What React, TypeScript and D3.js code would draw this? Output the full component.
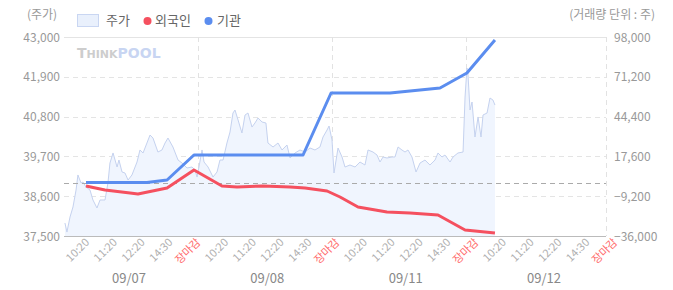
import React from "react";
import * as d3 from "d3";

// ---- data (x = trading-day position: day index + fraction of day) ----
const dayLabels = ["09/07", "09/08", "09/11", "09/12"];
const tickLabels = ["10:20", "11:20", "12:20", "14:30", "장마감"];
const leftTicks = [37500, 38600, 39700, 40800, 41900, 43000];
const rightTicks = [-36000, -9200, 17600, 44400, 71200, 98000];

const price: [number, number][] = [
  [0.007, 37859], [0.022, 37610], [0.045, 38025], [0.067, 38301], [0.09, 38771], [0.104, 39186],
  [0.127, 38965], [0.142, 38992], [0.164, 38854], [0.194, 38771], [0.216, 38495], [0.246, 38274],
  [0.269, 38495], [0.306, 38495], [0.328, 38965], [0.343, 39517], [0.366, 39794], [0.396, 39407],
  [0.41, 39600], [0.433, 39269], [0.455, 39241], [0.478, 39047], [0.507, 39186], [0.545, 39545],
  [0.567, 39877], [0.59, 39794], [0.619, 40070], [0.642, 40291], [0.664, 40208], [0.701, 39821],
  [0.731, 39877], [0.754, 40070], [0.776, 40208], [0.813, 39960], [0.851, 39600], [0.881, 39517],
  [0.918, 39379], [0.955, 39407], [0.978, 39324], [0.993, 39130],
  [1.007, 39407], [1.03, 39877], [1.045, 39545], [1.075, 39407], [1.112, 39130], [1.142, 39269],
  [1.164, 39600], [1.187, 39600], [1.216, 40070], [1.239, 40374], [1.261, 40899], [1.276, 40982],
  [1.299, 40706], [1.328, 40347], [1.351, 40844], [1.373, 40899], [1.403, 40512], [1.425, 40623],
  [1.448, 40761], [1.478, 40651], [1.507, 40623], [1.522, 40070], [1.56, 39960], [1.597, 40070],
  [1.627, 39877], [1.664, 40015], [1.687, 39656], [1.724, 39794], [1.761, 39877], [1.799, 39821],
  [1.836, 39932], [1.873, 39877], [1.91, 39960], [1.933, 40236], [1.963, 40429], [1.978, 40540],
  [2.0, 40153], [2.015, 39241], [2.045, 39932], [2.075, 39683], [2.097, 39407], [2.134, 39462],
  [2.172, 39407], [2.209, 39545], [2.246, 39462], [2.269, 39877], [2.306, 39821], [2.336, 39738],
  [2.358, 39545], [2.381, 39683], [2.41, 39656], [2.448, 39683], [2.47, 39683], [2.493, 39960],
  [2.522, 39877], [2.545, 39821], [2.567, 39877], [2.597, 39683], [2.627, 39269], [2.657, 39517],
  [2.694, 39600], [2.731, 39462], [2.769, 39600], [2.791, 39794], [2.821, 39683], [2.843, 39738],
  [2.881, 39545], [2.903, 39683], [2.94, 39794], [2.978, 39821],
  [2.993, 41342], [3.007, 42143], [3.015, 41950], [3.03, 40982], [3.045, 41203], [3.052, 40899],
  [3.067, 40236], [3.09, 40789], [3.112, 40236], [3.127, 40844], [3.157, 40899], [3.179, 41314],
  [3.201, 41259], [3.216, 41120],
];

const foreign: [number, number][] = [
  [0.164, -2340], [0.306, -5030], [0.493, -7050], [0.552, -7720], [0.769, -3680], [0.97, 8440],
  [1.179, -2340], [1.291, -3010], [1.485, -2340], [1.687, -3010], [1.799, -3680], [1.963, -5700],
  [2.06, -9740], [2.194, -16480], [2.41, -19850], [2.582, -20520], [2.791, -21870], [2.993, -31970],
  [3.216, -33990],
];

const institution: [number, number][] = [
  [0.164, 0], [0.619, 0], [0.769, 1700], [0.97, 18540], [1.784, 18540], [1.993, 60290],
  [2.433, 60290], [2.806, 63660], [3.007, 73760], [3.216, 95980],
];

const W = 673, H = 290;
const plotL = 64, plotR = 606, plotT = 37, plotB = 236;
const FONT = "'Noto Sans CJK KR', 'Noto Sans', sans-serif";

export default function App() {
  const x = d3.scaleLinear().domain([0, 4]).range([plotL, 600]);
  const yL = d3.scaleLinear().domain([37500, 43000]).range([plotB, plotT]);
  const yR = d3.scaleLinear().domain([-36000, 98000]).range([plotB, plotT]);
  const tickX = d3.scaleLinear().domain([0, 19]).range([90, 618]);
  const dayX = d3.scaleLinear().domain([0, 3]).range([129, 544]);
  const fmt = d3.format(",");

  const area = d3.area<[number, number]>()
    .x((d) => x(d[0])).y0(plotB).y1((d) => yL(d[1]));
  const pLine = d3.line<[number, number]>().x((d) => x(d[0])).y((d) => yL(d[1]));
  const rLine = d3.line<[number, number]>().x((d) => x(d[0])).y((d) => yR(d[1]));

  const allTicks: { label: string; i: number }[] = [];
  dayLabels.forEach((_, d) => tickLabels.forEach((t, k) => allTicks.push({ label: t, i: d * 5 + k })));

  return (
    <svg width={W} height={H} style={{ position: "absolute", left: 0, top: 0, background: "#fff" }} fontFamily={FONT}>
      {/* titles */}
      <text x={42} y={19} fontSize={12} fill="#999" textAnchor="middle">(주가)</text>
      <text x={655} y={19} fontSize={12} fill="#999" textAnchor="end">(거래량 단위 : 주)</text>

      {/* legend */}
      <rect x={77.5} y={14.5} width={21} height={12} fill="#e9f0fc" stroke="#c9d6f2" />
      <text x={106} y={25} fontSize={13} fill="#666">주가</text>
      <circle cx={147.5} cy={21} r={4} fill="#f5505f" />
      <text x={155} y={25} fontSize={13} fill="#666">외국인</text>
      <circle cx={208.5} cy={21} r={4} fill="#5b8def" />
      <text x={217} y={25} fontSize={13} fill="#666">기관</text>

      {/* gridlines */}
      {leftTicks.map((t, i) => (
        <line key={"g" + i} x1={plotL} x2={plotR} y1={Math.round(yL(t)) + 0.5} y2={Math.round(yL(t)) + 0.5}
          stroke={i === 0 ? "#bbb" : "#e4e4e4"}
          strokeDasharray={i === 0 || i === leftTicks.length - 1 ? undefined : "5,4"} />
      ))}
      {[1, 2, 3, 4].map((d) => (
        <line key={"v" + d} x1={d === 4 ? plotR + 0.5 : Math.round(x(d)) + 0.5} x2={d === 4 ? plotR + 0.5 : Math.round(x(d)) + 0.5}
          y1={plotT} y2={plotB} stroke="#e2e2e2" strokeDasharray="5,4" />
      ))}

      {/* watermark */}
      <text x={77} y={58} fontSize={14} fontWeight="bold" fill="#cdcdcd" fontFamily="'DejaVu Sans', sans-serif">
        T<tspan fontSize={11}>HINK</tspan><tspan fill="#c8d5f2" fontSize={14}>POOL</tspan>
      </text>

      {/* price area */}
      <path d={area(price) || ""} fill="#f0f5fe" />
      <path d={pLine(price) || ""} fill="none" stroke="#c5d2ef" strokeWidth={1} />

      {/* zero line of right axis */}
      <line x1={plotL} x2={plotR} y1={Math.round(yR(0)) + 0.5} y2={Math.round(yR(0)) + 0.5}
        stroke="#aaa" strokeDasharray="5,4" />

      {/* bottom axis line redraw */}
      <line x1={plotL} x2={plotR} y1={plotB + 0.5} y2={plotB + 0.5} stroke="#bbb" />

      {/* investor lines */}
      <path d={rLine(foreign) || ""} fill="none" stroke="#f5505f" strokeWidth={3} strokeLinejoin="round" />
      <path d={rLine(institution) || ""} fill="none" stroke="#5b8def" strokeWidth={3} strokeLinejoin="round" />

      {/* left axis labels */}
      {leftTicks.map((t, i) => (
        <text key={"l" + i} x={60} y={yL(t) + 4.5} fontSize={12} fill="#999" textAnchor="end">{fmt(t)}</text>
      ))}
      {/* right axis labels */}
      {rightTicks.map((t, i) => (
        <text key={"r" + i} x={614} y={yR(t) + 4.5} fontSize={12} fill="#999">{fmt(t)}</text>
      ))}

      {/* x tick labels */}
      {allTicks.map((t) => (
        <text key={"t" + t.i} transform={`translate(${tickX(t.i)},${243}) rotate(-45)`}
          fontSize={11} textAnchor="end" fill={t.label === "장마감" ? "#ff6a6a" : "#b0b0b0"}>{t.label}</text>
      ))}
      {/* day labels */}
      {dayLabels.map((d, i) => (
        <text key={"d" + i} x={dayX(i)} y={283} fontSize={13} fill="#888" textAnchor="middle">{d}</text>
      ))}
    </svg>
  );
}
